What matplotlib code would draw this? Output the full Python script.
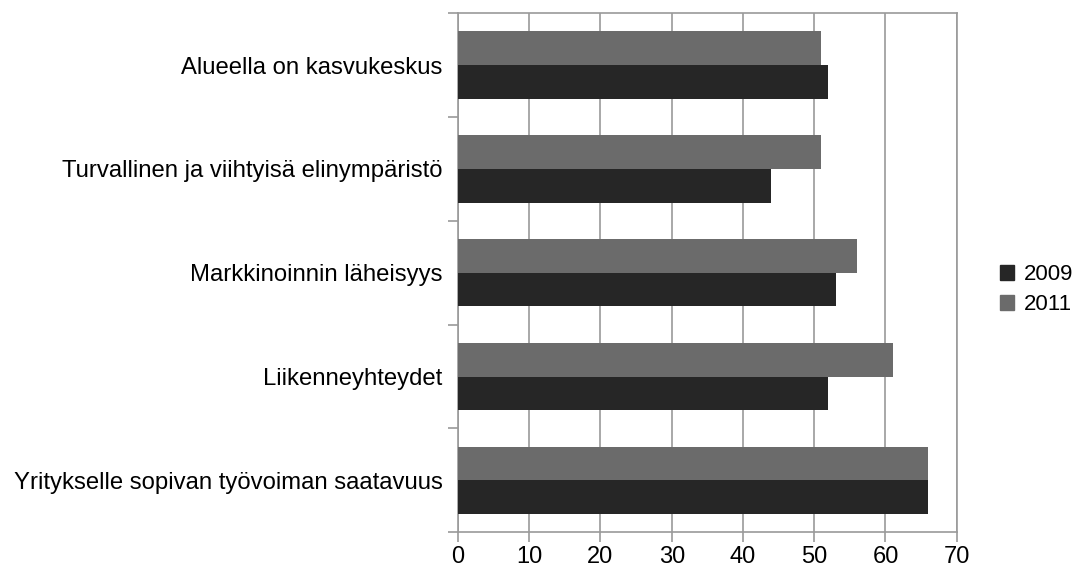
import numpy as np
import matplotlib.pyplot as plt
from matplotlib.patches import Patch

plt.rcParams['font.family'] = ['Liberation Sans', 'DejaVu Sans']

# --------------------
# data
# --------------------
categories = [
    "Alueella on kasvukeskus",
    "Turvallinen ja viihtyisä elinympäristö",
    "Markkinoinnin läheisyys",
    "Liikenneyhteydet",
    "Yritykselle sopivan työvoiman saatavuus",
]
values_2009 = [52, 44, 53, 52, 66]
values_2011 = [51, 51, 56, 61, 66]
series_names = ["2009", "2011"]
x_ticks = [0, 10, 20, 30, 40, 50, 60, 70]

c_2009 = "#262626"
c_2011 = "#6b6b6b"
grid_c = "#9a9a9a"

fig = plt.figure(figsize=(10.75, 5.73), dpi=100)
ax = fig.add_axes([0.426, 0.071, 0.464, 0.906])

y = np.arange(len(categories))
h = 0.325

ax.barh(y - h / 2, values_2011, height=h, color=c_2011, zorder=3)
ax.barh(y + h / 2, values_2009, height=h, color=c_2009, zorder=3)

ax.set_ylim(len(categories) - 0.5, -0.5)
ax.set_xlim(0, 70)
ax.set_xticks(x_ticks)

# category labels at centres, tick marks at boundaries
ax.set_yticks(y)
ax.set_yticklabels(categories, fontsize=17.2)
ax.set_yticks(np.arange(len(categories) + 1) - 0.5, minor=True)
ax.tick_params(axis="y", which="major", length=0, pad=11)
ax.tick_params(axis="y", which="minor", length=7, color=grid_c, width=1.2)
ax.tick_params(axis="x", length=7, color=grid_c, width=1.2, labelsize=17, pad=3)

ax.grid(axis="x", color=grid_c, linewidth=1.2, zorder=0)
for s in ax.spines.values():
    s.set_color(grid_c)
    s.set_linewidth(1.2)

handles = [Patch(color=c_2009), Patch(color=c_2011)]
fig.legend(handles, series_names, loc="center left",
           bbox_to_anchor=(0.93, 0.494), frameon=False, fontsize=16,
           handlelength=0.65, handleheight=0.65, handletextpad=0.45,
           labelspacing=0.4, borderaxespad=0, borderpad=0)

plt.savefig("out.png", dpi=100)
